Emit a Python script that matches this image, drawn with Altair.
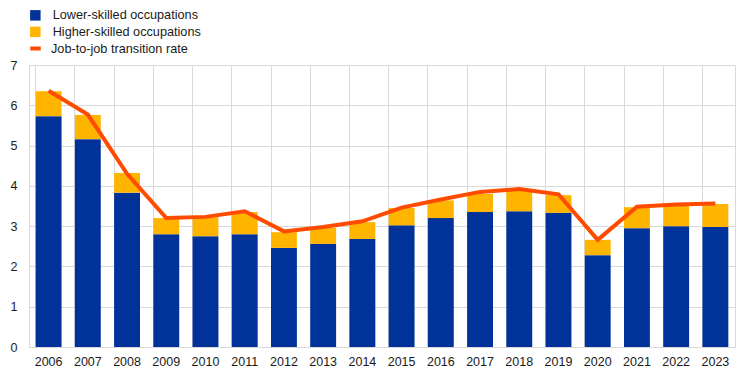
import altair as alt
import pandas as pd

years = [str(y) for y in range(2006, 2024)]
lower = [5.73, 5.16, 3.83, 2.80, 2.75, 2.80, 2.46, 2.56, 2.68, 3.02, 3.20, 3.35, 3.37, 3.33, 2.28, 2.95, 3.00, 2.98]
total = [6.35, 5.76, 4.32, 3.20, 3.22, 3.35, 2.85, 2.96, 3.10, 3.45, 3.64, 3.80, 3.90, 3.77, 2.66, 3.47, 3.52, 3.55]
rate = [6.36, 5.77, 4.30, 3.20, 3.23, 3.37, 2.87, 2.98, 3.12, 3.46, 3.66, 3.85, 3.92, 3.79, 2.66, 3.48, 3.54, 3.56]

higher = [round(t - l, 3) for t, l in zip(total, lower)]

bar_names = ["Lower-skilled occupations", "Higher-skilled occupations"]
line_name = "Job-to-job transition rate"

rows = []
for i, y in enumerate(years):
    rows.append({"year": y, "series": bar_names[0], "value": lower[i], "order": 0})
    rows.append({"year": y, "series": bar_names[1], "value": higher[i], "order": 1})
bars_df = pd.DataFrame(rows)
line_df = pd.DataFrame({"year": years, "value": rate, "series": [line_name] * len(years)})

FONT = "Liberation Sans"
AX_FS = 12.5
LG_FS = 12.7

x_enc = alt.X("year:N", title=None, sort=years,
              scale=alt.Scale(paddingInner=0.34, paddingOuter=0.17),
              axis=alt.Axis(labelAngle=0, ticks=False, domain=False, grid=True,
                            bandPosition=0, gridColor="#d9d9d9", labelPadding=8,
                            labelFont=FONT, labelFontSize=AX_FS, labelColor="#1a1a1a"))

y_scale = alt.Scale(domain=[0, 7], nice=False)
y_axis = alt.Axis(values=list(range(0, 8)), ticks=False, domain=False, grid=True,
                  gridColor="#d9d9d9", labelPadding=12, labelFont=FONT,
                  labelFontSize=AX_FS, labelColor="#1a1a1a")

bars = alt.Chart(bars_df).mark_bar().encode(
    x=x_enc,
    y=alt.Y("value:Q", stack="zero", scale=y_scale, axis=y_axis, title=None),
    fill=alt.Fill("series:N", sort=bar_names,
                  scale=alt.Scale(domain=bar_names, range=["#003299", "#FFB400"]),
                  legend=alt.Legend(title=None, orient="none", legendX=0, legendY=-56,
                                    symbolType="square", symbolSize=110,
                                    labelFont=FONT, labelFontSize=LG_FS, labelColor="#1a1a1a",
                                    labelOffset=11, rowPadding=2.5, padding=0,
                                    symbolStrokeWidth=0)),
    order=alt.Order("order:Q"),
)

line = alt.Chart(line_df).mark_line(strokeWidth=4).encode(
    x=alt.X("year:N", sort=years),
    y=alt.Y("value:Q", scale=y_scale),
    stroke=alt.Stroke("series:N",
                      scale=alt.Scale(domain=[line_name], range=["#FF4B00"]),
                      legend=alt.Legend(title=None, orient="none", legendX=-1, legendY=-24,
                                        symbolType="stroke", symbolStrokeWidth=4,
                                        symbolSize=110,
                                        labelFont=FONT, labelFontSize=LG_FS, labelColor="#1a1a1a",
                                        labelOffset=8, padding=0)),
)

chart = alt.layer(bars, line).resolve_scale(fill="independent", stroke="independent").properties(
    width=706, height=282,
    autosize=alt.AutoSizeParams(type="none"),
    padding={"left": 21, "top": 57, "right": 1, "bottom": 22},
).configure_view(stroke="#d9d9d9")

chart.save("out.html", embed_options={"renderer": "svg", "actions": False})
